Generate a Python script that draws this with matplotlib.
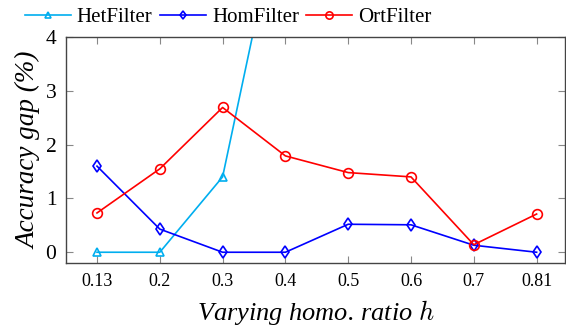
import matplotlib
matplotlib.use("Agg")
import matplotlib.pyplot as plt

# Data
ratios = ["0.13", "0.2", "0.3", "0.4", "0.5", "0.6", "0.7", "0.81"]
het_filter = [0.0, 0.0, 1.4, 6.9, 8.0, 9.0, 9.5, 10.0]
hom_filter = [1.6, 0.43, 0.0, 0.0, 0.52, 0.51, 0.13, 0.0]
ort_filter = [0.73, 1.55, 2.69, 1.79, 1.48, 1.40, 0.14, 0.71]

plt.rcParams["font.family"] = ["Liberation Serif", "DejaVu Serif"]
plt.rcParams["mathtext.fontset"] = "cm"

fig = plt.figure(figsize=(5.66, 3.30), dpi=100)
ax = fig.add_axes([0.117, 0.203, 0.881, 0.685])

x = list(range(len(ratios)))
ax.plot(x, het_filter, color="#00AEEF", marker="^", markersize=6,
        markerfacecolor="none", markeredgewidth=1.2, linewidth=1.2, label="HetFilter")
ax.plot(x, hom_filter, color="#0000FF", marker="d", markersize=6,
        markerfacecolor="none", markeredgewidth=1.2, linewidth=1.2, label="HomFilter")
ax.plot(x, ort_filter, color="#FF0000", marker="o", markersize=7,
        markerfacecolor="none", markeredgewidth=1.2, linewidth=1.2, label="OrtFilter")

ax.set_xlim(-0.49, 7.45)
ax.set_ylim(-0.2, 4)
ax.set_xticks(x)
ax.set_xticklabels(ratios, fontsize=13)
ax.set_yticks([0, 1, 2, 3, 4])
ax.tick_params(axis="y", labelsize=15.5, pad=7)
ax.tick_params(axis="x", pad=7)
ax.tick_params(direction="in", top=True, right=True, length=5, color="#888888")

for s in ax.spines.values():
    s.set_color("#444444")
    s.set_linewidth(1.0)

ax.set_ylabel("Accuracy gap (%)", fontsize=19.5, style="italic", labelpad=3)
ax.set_xlabel("Varying homo. ratio $h$", fontsize=19, style="italic", labelpad=6)

ax.legend(loc="lower left", bbox_to_anchor=(-0.1, 1.005), ncol=3, frameon=False,
          fontsize=15, handlelength=2.2, handletextpad=0.3, columnspacing=0.35,
          borderaxespad=0, markerscale=0.75)

fig.savefig("out.png", dpi=100)
